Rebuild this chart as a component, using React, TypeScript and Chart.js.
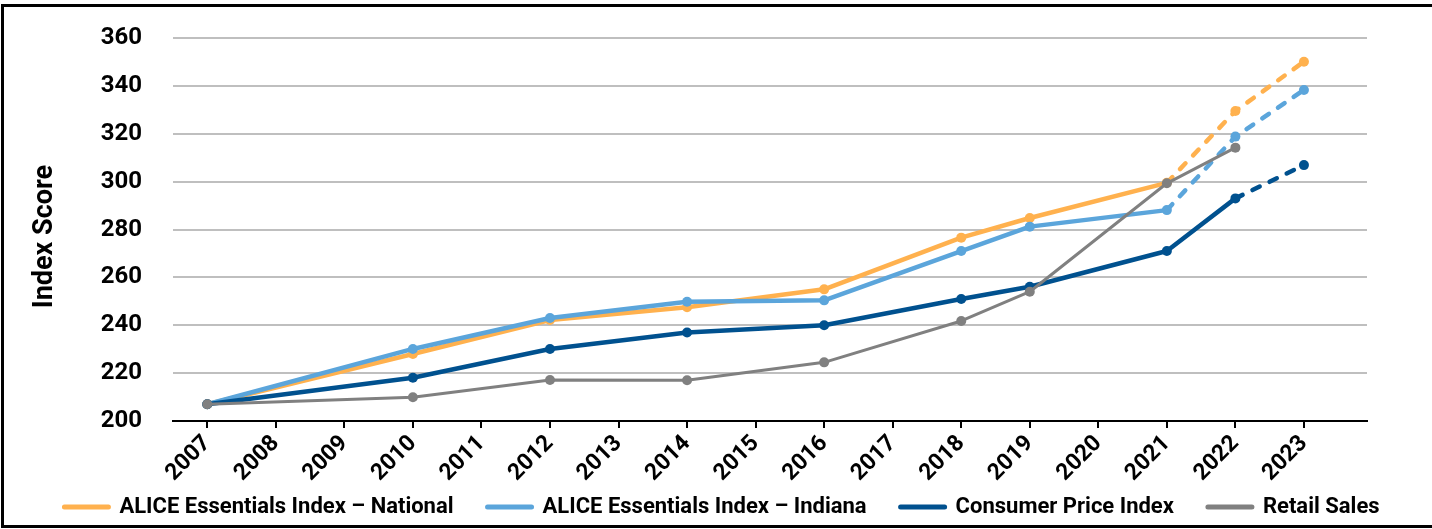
import React, { useEffect, useRef } from 'react';
import { Chart, registerables } from 'chart.js';

Chart.register(...registerables);

// ---- data ----
const tickYears = [2007, 2008, 2009, 2010, 2011, 2012, 2013, 2014, 2015, 2016, 2017, 2018, 2019, 2020, 2021, 2022, 2023];
const dataYears = [2007, 2010, 2012, 2014, 2016, 2018, 2019, 2021, 2022, 2023];
const nationalValues = [207, 228, 242.2, 247.5, 255, 276.6, 284.8, 299.5, 329.5, 350.1];
const indianaValues = [207, 230.1, 243, 249.8, 250.4, 271, 281.2, 288.1, 318.8, 338.3];
const cpiValues = [207, 218.1, 230.1, 237, 240, 251, 256.1, 271, 293, 306.9];
const retailValues: (number | null)[] = [207, 209.9, 217.1, 217, 224.5, 241.8, 254, 299.3, 314.2, null];
const seriesLabels = [
  'ALICE Essentials Index \u2013 National',
  'ALICE Essentials Index \u2013 Indiana',
  'Consumer Price Index',
  'Retail Sales',
];
// year from which the line becomes dashed (projection)
const dashFromYears = [2021, 2021, 2022, 9999];
const yTickMin = 200;
const yTickMax = 360;
const yTickStep = 20;

const COLORS = ['#FFB14E', '#5BA5DB', '#00518F', '#808080'];
const WIDTHS = [4.5, 4.5, 4.5, 3];
const ORDERS = [4, 3, 2, 1];
const FONT = 'Roboto';

function toPoints(values: (number | null)[]) {
  return dataYears
    .map((yr, i) => ({ x: yr, y: values[i] }))
    .filter((p) => p.y !== null);
}

export default function App() {
  const ref = useRef<HTMLCanvasElement | null>(null);

  useEffect(() => {
    if (!ref.current) return;
    const all = [nationalValues, indianaValues, cpiValues, retailValues];
    const datasets = all.map((vals, i) => ({
      label: seriesLabels[i],
      data: toPoints(vals),
      borderColor: COLORS[i],
      backgroundColor: COLORS[i],
      pointBackgroundColor: COLORS[i],
      pointBorderColor: COLORS[i],
      pointBorderWidth: 0,
      pointRadius: 5,
      borderWidth: WIDTHS[i],
      borderCapStyle: 'round' as const,
      borderJoinStyle: 'round' as const,
      tension: 0,
      order: ORDERS[i],
      yAxisID: 'y',
      segment: {
        borderDash: (ctx: any) => (ctx.p0.parsed.x >= dashFromYears[i] ? [8, 11] : undefined),
      },
    }));

    const chart = new Chart(ref.current, {
      type: 'line',
      data: { datasets },
      options: {
        animation: false,
        responsive: false,
        maintainAspectRatio: false,
        devicePixelRatio: 1,
        layout: { padding: { left: 20, right: 8, top: 38, bottom: 1 } },
        plugins: {
          tooltip: { enabled: false },
          legend: {
            position: 'bottom',
            labels: {
              font: { family: FONT, size: 22, weight: 'bold' },
              color: '#000',
              usePointStyle: true,
              pointStyle: 'line',
              pointStyleWidth: 44,
              boxWidth: 44,
              boxHeight: 5,
              padding: 34,
              sort: (a: any, b: any) => a.datasetIndex - b.datasetIndex,
              generateLabels: (c: any) => {
                const items = (Chart as any).defaults.plugins.legend.labels.generateLabels(c);
                return items.map((it: any) => ({
                  ...it,
                  lineWidth: 5,
                  strokeStyle: COLORS[it.datasetIndex],
                  fillStyle: COLORS[it.datasetIndex],
                  lineCap: 'round',
                  lineDash: [],
                }));
              },
            },
          },
        },
        scales: {
          x: {
            type: 'linear',
            min: 2006.5,
            max: 2023.92,
            afterBuildTicks: (scale: any) => {
              scale.ticks = tickYears.map((v) => ({ value: v }));
            },
            afterFit: (scale: any) => {
              scale.height = 41;
              // let rotated labels overflow the (short) axis box instead of being clipped
              scale._computeLabelArea = () => undefined;
            },
            border: { display: true, color: '#000', width: 2 },
            grid: {
              display: true,
              drawOnChartArea: false,
              drawTicks: true,
              tickLength: 7,
              color: '#000',
              lineWidth: 2,
            },
            ticks: {
              autoSkip: false,
              maxRotation: 45,
              minRotation: 45,
              padding: 2,
              color: '#000',
              font: { family: FONT, size: 23, weight: 'bold' },
              callback: (v: any) => String(v),
            },
          },
          y: {
            position: 'left',
            min: yTickMin,
            max: yTickMax,
            afterFit: (scale: any) => {
              scale.width = 153;
              scale.paddingTop = 0;
              scale.paddingBottom = 0;
              const proto = Object.getPrototypeOf(scale);
              scale.drawTitle = function () {
                const t = this.top;
                const b = this.bottom;
                this.top = t + 7;
                this.bottom = b + 7;
                proto.drawTitle.call(this);
                this.top = t;
                this.bottom = b;
              };
            },
            border: { display: false },
            grid: {
              color: '#BFBFBF',
              lineWidth: 2,
              drawTicks: false,
            },
            ticks: {
              stepSize: yTickStep,
              padding: 31,
              color: '#000',
              font: { family: FONT, size: 24, weight: 'bold' },
            },
            title: {
              display: true,
              text: 'Index Score',
              color: '#000',
              font: { family: FONT, size: 27, weight: 'bold' },
              padding: { top: 9, bottom: 0 },
            },
          },
          yRightSpace: {
            position: 'right',
            display: true,
            min: yTickMin,
            max: yTickMax,
            border: { display: false },
            grid: { display: false, drawOnChartArea: false, drawTicks: false },
            ticks: { display: false },
            afterFit: (scale: any) => {
              scale.width = 57;
              scale.paddingTop = 0;
              scale.paddingBottom = 0;
            },
          },
        },
      },
    });
    return () => chart.destroy();
  }, []);

  return (
    <div style={{ position: 'fixed', left: 0, top: 0, width: 1432, height: 529, background: '#fff' }}>
      <canvas ref={ref} width={1432} height={529} style={{ position: 'absolute', left: 0, top: 0, width: 1432, height: 529 }} />
      <div
        style={{
          position: 'absolute',
          left: 1,
          top: 4,
          width: 1431,
          height: 524,
          boxSizing: 'border-box',
          borderLeft: '3px solid #000',
          borderTop: '3px solid #000',
          borderBottom: '3px solid #000',
          pointerEvents: 'none',
        }}
      />
    </div>
  );
}
